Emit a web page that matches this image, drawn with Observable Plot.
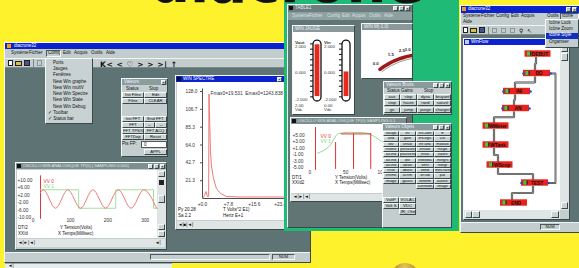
<!DOCTYPE html>
<html><head><meta charset="utf-8">
<script src="https://cdn.jsdelivr.net/npm/d3@7"></script>
<script src="https://cdn.jsdelivr.net/npm/@observablehq/plot@0.6"></script>
<style>
html,body{margin:0;padding:0;background:#fef22c;overflow:hidden}
#root{position:relative;width:579px;height:268px;overflow:hidden;background:#fef22c;font-family:"Liberation Sans",sans-serif;color:#111}
#root div{position:absolute;box-sizing:border-box}
.t{white-space:nowrap;line-height:1;font-size:4.5px}
#root svg{overflow:visible;display:block}
</style></head><body><div id="root"></div>
<script>
// ================= DATA =================
const headline = "diacrone";
const menuMain = ["Système", "Fichier", "Config", "Edit", "Acquis", "Outils", "Aide"];
const menuRight = ["Système", "Fichier", "Config", "Edit", "Acquis", "Outils", "Icone"];
const configItems = ["Ports", "Jauges", "Fenêtres", "New Win graphe", "New Win multV", "New Win Spectre", "New Win State", "New Win Debug", "✓ Toolbar", "✓ Status bar"];
const iconeItems = ["Icône Lock", "Icône Zoom", "Icône Style", "Organiser"];

// oscilloscope 1 (Y Tension (Volts) vs X Temps (Millisec))
const osc1T = [20, 27, 60, 93, 127, 160, 194, 228, 262, 296, 330];
const osc1Red = [3.5, 5, -5, 5, -5, 5, -5, 5, -5, 5, -5];
const osc1StepT = [20, 122, 221, 322, 333];
const osc1Green = [5, -5, 5, -5, -5];
const osc1YTicks = [10, 6, 2, -2, -6, -10];
const osc1XTicks = [0, 100, 200, 300];

// spectrum (Hertz E+1 vs Volts^2 E1)
const specF = [0, 0.6, 1.05, 1.5, 1.85, 1.95, 2.4, 2.7, 3.3, 4.2, 5.4, 7.2, 11.4, 17.4, 25];
const specA = [0, 3.6, 8.4, 2.4, 2.4, 125, 57, 39, 24, 12, 6, 2.4, 1.8, 1.8, 1.8];
const specYTicks = [21.3, 42.7, 64.0, 85.3, 106.7, 128.0];
const specXTicks = [0, 7.8, 15.6, 23.4];

// oscilloscope 2
const osc2GreenT = [11, 28, 40, 55, 75, 100];
const osc2Green = [-0.5, 1.8, 5.6, 6.0, 5.9, 3.2];
const osc2PulseT = [36, 61, 85];
const osc2PulseTop = [2.8, 5.5, 5.5];
const osc2PulseLow = -5.6;
const osc2TopSpan = [44, 86];
const osc2TopLevel = 5.5;
const osc2YTicks = [5, 3, 1, -1, -3, -5];
const osc2XTicks = [0, 50, 100];

// jauges (thermometers)
const jaugeNames = ["Vout", "Vin"];
const jaugeValues = [2.25, 0.2];
const jaugeReadout = ["2.00", "0.00"];
const jaugeLabelTicks = [2, 0, -2];
const jaugeMinorTicks = [2.2, 1.8, 1.4, 1.0, 0.6, 0.2, -0.2, -0.6, -1.0, -1.4, -1.8];

// gauge WIN M
const gaugeTickVals = [0, 1.5, 2.5, 3.0];
const gaugeTickText = ["0.0", "1.5", "2.5", "3.0"];
const gaugeBand = [0, 0.5, 1, 1.5, 2, 2.5, 3, 3.5];

// WinFlow diagram
const flowNames = ["DEBUT", "DO", "INI", "AN", "WMeter", "WTank", "WScop", "TEST", "END"];
const flowCol = [73.5, 72.5, 52.5, 51.5, 31.5, 31.5, 35.5, 70.5, 49.5];
const flowRow = [8.5, 28, 46, 63, 80.5, 99.5, 119.5, 137.5, 157.5];
const flowLoop = [[86, 28], [91, 28], [91, 137.5], [83, 137.5]];

// button panels
const bruitsRows = [["aux", "step", "dyna", "bruyant"], ["stop", "haute", "rand", "saturé"], ["go", "jump", "purge", "charger"]];
const objetsRows = [
  ["Sauge", "int", "infCode", "E"], ["and", "gain", "infLogic", "Div"], ["div", "unsat", "infTank", "modulo"],
  ["rhome", "pincount", "lnRate", "Regle"], ["lat.ind", "pourcent", "lnVal", "Vallev"], ["lat.ind", "div", "inMedia", "Integrs"],
  ["lat.ind", "absol", "Vent", "Integr"], ["Irrue", "dbout", "WEB", "mes.host"], ["Irrhme", "lo.hm", "WTab", "pat"],
  ["Image", "gauss", "WMem", "auteur"], [null, null, "lustream", "Image"]
];

// ================= HELPERS =================
const root = document.getElementById("root");
function div(x, y, w, h, css = "") {
  const d = document.createElement("div");
  d.style.cssText = `left:${x}px;top:${y}px;` + (w != null ? `width:${w}px;` : "") + (h != null ? `height:${h}px;` : "") + css;
  root.appendChild(d);
  return d;
}
function T(x, yc, s, css = "") {
  const d = document.createElement("div");
  d.className = "t";
  d.style.cssText = `left:${x}px;top:${yc - 2.4}px;` + css;
  d.textContent = s;
  root.appendChild(d);
  return d;
}
const RAISED = "border:1px solid;border-color:#f4f8f8 #3a4848 #3a4848 #f4f8f8;";
const SUNK = "border:1px solid;border-color:#4a5a5a #f4f8f8 #f4f8f8 #4a5a5a;";
const CHROME = "background:#c3cdcd;" + RAISED;
function btn(x, y, w, h, s, css = "") {
  const d = div(x, y, w, h, "background:#c9d3d3;" + RAISED + `font-size:4.2px;line-height:${h - 2}px;text-align:center;white-space:nowrap;overflow:hidden;` + css);
  d.textContent = s;
  return d;
}
function wbtns(xs, y, glyphs) {
  xs.forEach((x, i) => btn(x, y, 5, 5, glyphs[i], "background:#d8e0e0;font-weight:bold;font-size:4px;line-height:3px"));
}
function place(x, y, node) { const d = div(x, y); d.appendChild(node); return d; }
const PS = {background: "transparent", fontFamily: "Liberation Sans, sans-serif", fontSize: "4.8px", color: "#333", overflow: "visible"};

// vertical step curve for flow links
function stepV(context) {
  let pts = [];
  return {
    areaStart() {}, areaEnd() {},
    lineStart() { pts = []; },
    point(x, y) { pts.push([+x, +y]); },
    lineEnd() {
      if (!pts.length) return;
      context.moveTo(pts[0][0], pts[0][1]);
      for (let i = 1; i < pts.length; i++) {
        const [x0, y0] = pts[i - 1], [x1, y1] = pts[i], ym = (y0 + y1) / 2;
        context.lineTo(x0, ym); context.lineTo(x1, ym); context.lineTo(x1, y1);
      }
    }
  };
}

// ================= MAIN WINDOW (left) =================
div(4, 42, 307, 221, CHROME);
div(5, 43, 305, 6, "background:#0b22cc");
div(7, 44, 4, 4, "background:#f39a1e");
T(14, 46, "diacrone32", "color:#fff");
[11, 29, 48, 63, 74, 91, 106].forEach((x, i) => T(x, 53.5, menuMain[i]));
div(46, 50, 15, 7, SUNK);
div(5, 58, 305, 10, "border-top:1px solid #eef3f3;border-bottom:1px solid #7a8a8a");
div(8, 60, 5, 6, "background:#fff;border:1px solid #222");
div(15, 61, 7, 5, "background:#d8c040;border:1px solid #222");
div(24, 60, 6, 6, "background:#44558f;border:1px solid #222");
div(33, 59, 1, 8, "background:#7a8a8a");
div(37, 60, 5, 6, "border:1px solid #8a9a9a");
T(100, 63, "K< < ♡ > > >| ↑", "font-size:7.5px;font-weight:bold;letter-spacing:0.6px;font-family:'DejaVu Sans'");
div(5, 68, 305, 184, "background:#5e7373");
div(5, 252, 305, 10, "background:#c3cdcd;border-top:1px solid #eef3f3");
div(150, 254, 120, 6, SUNK);
const num1 = div(272, 254, 23, 6, SUNK + "font-size:4px;line-height:4px;text-align:center");
num1.textContent = "NUM";

// Valeurs panel
div(121, 78, 47, 79, "background:#c4cece;" + RAISED);
div(122, 79, 45, 6, "background:#8d9d9d");
T(124, 82, "Valeurs", "color:#eef");
wbtns([161], 79.5, ["×"]);
T(126, 89, "Status"); T(149, 89, "Stop");
btn(122, 92, 22, 6, "Init Filtre"); btn(144, 92, 23, 6, "Edit");
btn(122, 98, 22, 6, "Filtre"); btn(144, 98, 23, 6, "CLEAR");
btn(122, 116, 22, 6, "Init FFT"); btn(144, 116, 23, 6, "End FFT");
btn(122, 122, 22, 6, "FFT"); btn(144, 122, 11, 6, "←"); btn(155, 122, 12, 6, "→");
btn(122, 128, 22, 6, "FFT TPS%"); btn(144, 128, 23, 6, "FFT ACQ");
btn(122, 134, 22, 6, "FFTDep"); btn(144, 134, 23, 6, "Reset");
T(122, 144, "Pts FP:");
const inp = div(141, 141, 26, 7, "background:#fff;border:1px solid #555;font-size:4.5px;line-height:5px;padding-left:2px");
inp.textContent = "0";
btn(144, 149, 23, 6, "APPL");

// Oscillo window 1
div(15, 162, 152, 88, "background:#c4cece;" + RAISED);
div(16, 163, 150, 6, "background:#7e8f8f");
div(17, 164, 4, 4, "background:#111");
T(23, 166, "OSCILLO WIN ANALOGIQUE  TP(0) [ SAMPLING 0.000]", "color:#dfe6e6;font-size:4.2px");
wbtns([148, 154, 160], 163.5, ["_", "□", "×"]);
div(17, 170, 140, 68, "background:#fff");
div(157, 170, 9, 68, "background:#dfe5e5");
div(158, 171, 7, 6, "background:#c9d3d3;" + RAISED);
div(159, 180, 5, 5, "background:#222");
div(158, 195, 7, 8, "background:#c9d3d3;" + RAISED);
div(158, 224, 7, 6, "background:#c9d3d3;" + RAISED);
div(158, 231, 7, 6, "background:#c9d3d3;" + RAISED);
div(17, 239, 148, 8, "background:#dfe5e5");
T(18, 243, "◄|►|◄|", "font-size:4.5px");
T(155, 243, "◄|", "font-size:4.5px");
T(18, 228, "DT/2"); T(18, 234, "XX/d");
T(60, 228, "Y Tension(Volts)"); T(58, 234, "X Temps(Millisec)");

place(17, 169, Plot.plot({
  width: 140, height: 58, marginLeft: 23, marginRight: 1, marginTop: 11, marginBottom: 10,
  x: {domain: [20, 330], axis: null}, y: {domain: [-10, 10], axis: null}, style: PS,
  marks: [
    Plot.ruleX([20], {y1: -11, y2: 12.5, stroke: "#e03838", strokeWidth: 1}),
    Plot.line(osc1StepT.map((t, i) => ({t, v: osc1Green[i]})), {x: "t", y: "v", curve: "step-after", stroke: "#9ee29e", strokeWidth: 1}),
    Plot.line(osc1T.map((t, i) => ({t, v: osc1Red[i]})), {x: "t", y: "v", curve: "monotone-x", stroke: "#ee7c7c", strokeWidth: 1}),
    Plot.text(osc1YTicks, {y: d => d, text: d => (d > 0 ? "+" : "") + d.toFixed(2), frameAnchor: "left", dx: -23, textAnchor: "start"}),
    Plot.text(osc1XTicks, {x: d => d, text: d => String(d), frameAnchor: "bottom", dy: 4}),
    Plot.text(["VV 0"], {frameAnchor: "top-left", dx: 3, dy: -1, fill: "#e03838", textAnchor: "start"}),
    Plot.text(["VV 1"], {frameAnchor: "top-left", dx: 3, dy: 4, fill: "#7ad67a", textAnchor: "start"})
  ]
}));

// Spectrum window
div(175, 75, 125, 155, "background:#c4cece;" + RAISED);
div(176, 76, 123, 6, "background:#0b22cc");
div(177, 77, 4, 4, "background:#111");
T(183, 79, "WIN SPECTRE", "color:#fff");
wbtns([277], 76.5, ["▪"]);
div(177, 82, 122, 138, "background:#fff");
div(177, 221, 122, 8, "background:#dfe5e5");
T(178, 225, "◄|■|◄|");
T(178, 210, "Py 20.28"); T(178, 216, "Sa 2.2");
T(223, 210, "T Volts^2 E1)"); T(223, 216, "Hertz E+1");
place(177, 82, Plot.plot({
  width: 110, height: 130, marginLeft: 25, marginRight: 2, marginTop: 9, marginBottom: 14,
  x: {domain: [0, 25], axis: null}, y: {domain: [0, 128], axis: null}, style: PS,
  marks: [
    Plot.ruleX([0], {y1: 0, y2: 131, stroke: "#222", strokeWidth: 0.8}),
    Plot.ruleY([0], {x1: 0, x2: 25, stroke: "#222", strokeWidth: 0.8}),
    Plot.ruleY(specYTicks, {x1: -0.6, x2: 0, stroke: "#222", strokeWidth: 0.8}),
    Plot.line(specF.map((f, i) => ({f, a: specA[i]})), {x: "f", y: "a", stroke: "#f07878", strokeWidth: 1}),
    Plot.text(specYTicks, {y: d => d, text: d => d.toFixed(1), frameAnchor: "left", dx: -17, textAnchor: "start"}),
    Plot.text(specXTicks, {x: d => d, text: d => "+" + d.toFixed(1), frameAnchor: "bottom", dy: 7}),
    Plot.text(["Fmax0=19.531  Emax0=1243.838"], {frameAnchor: "top-left", dx: 8, dy: 0, textAnchor: "start"})
  ]
}));

// bottom strip & coin
div(5, 263, 167, 6, "background:#e7ecec;border-top:1px solid #9aa");
T(8, 266, "◄|");
div(391, 263, 28, 28, "border-radius:50%;background:radial-gradient(circle at 50% 15%, #e8c860, #a57c1a 55%, #6a4a08)");

// ================= GREEN PANEL =================
div(284, 0, 175, 231, "background:#1fba76");
div(287, 4, 126, 224, "background:#b8c4c4;" + RAISED);
div(288, 5, 124, 7, "background:#6c7e7e");
div(289, 6, 4, 4, "background:#111");
T(295, 8.5, "TABLE1", "color:#e4eaea");
wbtns([393, 399, 405], 6, ["_", "□", "×"]);
div(288, 12, 124, 8, "background:#8fa0a0");
[292, 309, 327, 342, 352, 369, 384].forEach((x, i) => T(x, 16, menuMain[i], "color:#d8e2e2"));
div(288, 20, 124, 207, "background:#617575");

// WIN JAUGE
div(292, 25, 63, 90, "background:#c4cece;" + RAISED);
div(293, 26, 61, 6, "background:#8a9a9a");
T(295, 29, "WIN JAUGE", "color:#eef");
div(293, 32, 61, 82, "background:#fff");
const jaugeData = jaugeNames.map((name, i) => ({name, value: jaugeValues[i], readout: jaugeReadout[i]}));
place(292, 32, Plot.plot({
  width: 63, height: 81, marginTop: 14, marginBottom: 14, marginLeft: 0, marginRight: 0,
  x: {type: "band", domain: jaugeNames, range: [20, 58], paddingInner: 0.7333, paddingOuter: 0, axis: null},
  y: {domain: [-2, 2], axis: null}, style: PS,
  marks: [
    Plot.barY(jaugeData, {x: "name", y1: -2.15, y2: 2.45, fill: "#fff", stroke: "#111", strokeWidth: 1.3, rx: 4}),
    Plot.barY(jaugeData, {x: "name", y1: -1.9, y2: "value", fill: "#e8281e", inset: 1.6}),
    Plot.tickY(jaugeNames.flatMap(name => jaugeMinorTicks.map(v => ({name, v}))), {x: "name", y: "v", stroke: "#111", insetRight: 5, dx: -3}),
    Plot.text(jaugeNames.flatMap(name => jaugeLabelTicks.map(v => ({name, v}))), {x: "name", y: "v", text: d => d.v.toFixed(3), dx: -22.5, textAnchor: "start", fontSize: 4.4}),
    Plot.text(jaugeData, {x: "name", text: "name", frameAnchor: "top", dy: -6, dx: -22.5, textAnchor: "start", fontWeight: "bold", fontSize: 4.4}),
    Plot.text(jaugeData, {x: "name", text: "readout", frameAnchor: "bottom", dy: 7, dx: -22.5, textAnchor: "start", fontSize: 4.4}),
    Plot.text(jaugeData, {x: "name", text: () => "Vdc", frameAnchor: "bottom", dy: 11, dx: -22.5, textAnchor: "start", fontSize: 4.4})
  ]
}));

// WIN M gauge
div(361, 23, 52, 56, "background:#c4cece;" + RAISED);
div(362, 24, 50, 6, "background:#8a9a9a");
T(364, 27, "WIN M(-1.0)", "color:#eef");
div(362, 30, 50, 48, "background:#fff");
{
  const cx = 424 - 362, cy = 128 - 30, R = 74;
  const ang = v => (-127 + v * 8.3) * Math.PI / 180;
  const pt = (v, r) => ({x: cx + r * Math.cos(ang(v)), y: cy + r * Math.sin(ang(v))});
  const g = Plot.plot({
    width: 50, height: 48, margin: 0,
    x: {domain: [0, 50], axis: null}, y: {domain: [48, 0], axis: null}, style: PS,
    marks: [
      Plot.line(gaugeBand.map(v => pt(v, R)), {x: "x", y: "y", stroke: "#9e1a1a", strokeWidth: 3.5, curve: "natural"}),
      Plot.line(gaugeBand.map(v => pt(v, R - 3)), {x: "x", y: "y", stroke: "#555", strokeWidth: 0.6, curve: "natural"}),
      Plot.text(gaugeTickVals.map((v, i) => ({...pt(v, R + 7), s: gaugeTickText[i]})), {x: "x", y: "y", text: "s", fontSize: 4.4, fontWeight: "bold"})
    ]
  });
  const wrap = div(362, 30, 50, 48, "overflow:hidden");
  wrap.appendChild(g);
}

// Valeurs Bruits
div(383, 81, 69, 34, "background:#c4cece;" + RAISED);
div(384, 82, 67, 6, "background:#8a9a9a");
T(386, 85, "Valeurs   Bruits", "color:#eef");
wbtns([433, 439, 445], 82.5, ["_", "□", "×"]);
T(387, 91, "Status"); T(401, 91, "Gains"); T(424, 91, "Stop");
const colB = [384, 400, 417, 434], wB = [16, 17, 17, 17];
bruitsRows.forEach((r, i) => r.forEach((s, j) => btn(colB[j], 94 + i * 6.3, wB[j], 6, s)));

// Oscillo window 2
div(290, 117, 117, 85, "background:#c4cece;" + RAISED);
div(291, 118, 115, 6, "background:#7e8f8f");
div(292, 119, 4, 4, "background:#111");
T(298, 121, "OSCILLO WIN ANALOGIQUE  TP(0)  SAMPLING 0.1", "color:#dfe6e6;font-size:4.2px");
div(291, 124, 115, 69, "background:#fff");
div(291, 194, 115, 7, "background:#dfe5e5");
T(293, 197.5, "◄|►|◄|");
T(292, 178, "DT/1"); T(292, 183, "XX/d2");
T(335, 178, "Y Tension(Volts)"); T(335, 183, "X Temps(Millisec)");
place(291, 124, Plot.plot({
  width: 95, height: 55, marginLeft: 24, marginRight: 5, marginTop: 11, marginBottom: 12,
  x: {domain: [8, 100], axis: null}, y: {domain: [-5, 5], axis: null}, style: PS,
  marks: [
    Plot.ruleX([8], {y1: -5.9, y2: 7.5, stroke: "#e03838"}),
    Plot.line(osc2GreenT.map((t, i) => ({t, v: osc2Green[i]})), {x: "t", y: "v", stroke: "#8fdc8f", strokeWidth: 1, curve: "monotone-x"}),
    Plot.ruleX(osc2PulseT.map((t, i) => ({t, top: osc2PulseTop[i]})), {x: "t", y1: osc2PulseLow, y2: "top", stroke: "#e83030", strokeWidth: 1}),
    Plot.ruleY([osc2TopLevel], {x1: osc2TopSpan[0], x2: osc2TopSpan[1], stroke: "#e83030", strokeWidth: 1}),
    Plot.text(osc2YTicks, {y: d => d, text: d => (d > 0 ? "+" : "") + d.toFixed(2), frameAnchor: "left", dx: -23, textAnchor: "start"}),
    Plot.text(osc2XTicks, {x: d => d, text: d => String(d), frameAnchor: "bottom", dy: 6}),
    Plot.text(["VV 0"], {frameAnchor: "top-left", dx: 5, dy: -1, fill: "#e03838", textAnchor: "start"}),
    Plot.text(["VV 1"], {frameAnchor: "top-left", dx: 5, dy: 4, fill: "#7ad67a", textAnchor: "start"})
  ]
}));

// Valeurs Objets
div(382, 123, 70, 105, "background:#c4cece;" + RAISED);
div(383, 124, 68, 6, "background:#8a9a9a");
T(385, 127, "Valeurs   Objets", "color:#eef");
wbtns([433, 439, 445], 124.5, ["_", "□", "×"]);
const colO = [383, 399, 416, 434], wO = [16, 17, 18, 17];
objetsRows.forEach((r, i) => r.forEach((s, j) => { if (s) btn(colO[j], 131 + i * 5.3, wO[j], 5.3, s, "font-size:3.8px"); }));
btn(383, 197, 16, 6, "VoltP"); btn(399, 197, 17, 6, "VOLAC");
btn(383, 203, 16, 6, "Volt S"); btn(399, 203, 17, 6, "VDC");
btn(399, 209, 17, 6, "JR_Ohm");

// ================= RIGHT WINDOW =================
div(460, 5, 120, 228, CHROME);
div(461, 6, 119, 7, "background:#0b22cc");
div(462, 7, 4, 4, "background:#f39a1e");
T(468, 9.5, "diacrone32", "color:#fff");
wbtns([566, 572], 7, ["□", "×"]);
[463, 481, 496, 511, 521, 547, 562].forEach((x, i) => T(x, 16, menuRight[i]));
div(560, 13, 19, 7, SUNK);
T(463, 22.5, "Aide");
div(461, 25, 118, 10, "border-top:1px solid #eef3f3;border-bottom:1px solid #7a8a8a");
div(463, 27, 5, 6, "background:#fff;border:1px solid #222");
div(470, 28, 7, 5, "background:#d8c040;border:1px solid #222");
div(479, 27, 6, 6, "background:#44558f;border:1px solid #222");
div(488, 27, 1, 7, "background:#7a8a8a");
div(492, 28, 5, 5, "border:1px solid #8a9a9a");
div(501, 28, 5, 5, "border:1px solid #8a9a9a");
div(510, 28, 5, 5, "border:1px solid #8a9a9a");
T(519, 30, "♀", "font-size:6px;font-weight:bold;font-family:'DejaVu Sans'");
T(527, 30, "↖", "font-size:6px;font-family:'DejaVu Sans'");
div(461, 35, 118, 187, "background:#5e7373");
// WinFlow inner window
div(463, 38, 107, 182, "background:#c4cece;" + RAISED);
div(464, 39, 105, 6, "background:#0b22cc");
div(465, 40, 4, 4, "background:#ccd");
T(471, 42, "WinFlow", "color:#fff");
div(464, 45, 96, 165, "background:#fff");
div(560, 45, 9, 165, "background:#dfe5e5");
div(561, 46, 7, 6, "background:#c9d3d3;" + RAISED);
div(561, 53, 7, 8, "background:#c9d3d3;" + RAISED);
div(561, 202, 7, 7, "background:#c9d3d3;" + RAISED);
div(464, 210, 96, 9, "background:#dfe5e5");
div(465, 211, 7, 7, "background:#c9d3d3;" + RAISED);
div(472, 211, 8, 7, "background:#c9d3d3;" + RAISED);
div(551, 211, 8, 7, "background:#c9d3d3;" + RAISED);
div(461, 222, 118, 10, "background:#c3cdcd;border-top:1px solid #eef3f3");
const num2 = div(540, 224, 20, 6, SUNK + "font-size:4px;line-height:4px;text-align:center");
num2.textContent = "NUM";

const nodes = flowNames.map((name, i) => ({name, x: flowCol[i], y: flowRow[i], w: name.length > 4 ? 26 : 27}));
const links = nodes.slice(1).map((n, i) => ({a: nodes[i], b: n}));
const dotsIdx = [1, 2, 3, 7];
place(464, 45, Plot.plot({
  width: 96, height: 165, margin: 0,
  x: {domain: [0, 96], axis: null}, y: {domain: [165, 0], axis: null}, style: PS,
  marks: [
    Plot.link(links, {x1: d => d.a.x - 2, y1: d => d.a.y + 3, x2: d => d.b.x - 2, y2: d => d.b.y - 3, curve: stepV, stroke: "#444", strokeWidth: 2.2}),
    Plot.link(links, {x1: d => d.a.x - 2, y1: d => d.a.y + 3, x2: d => d.b.x - 2, y2: d => d.b.y - 3, curve: stepV, stroke: "#b8b8b8", strokeWidth: 0.8}),
    Plot.line(flowLoop, {x: d => d[0], y: d => d[1], stroke: "#444", strokeWidth: 1.8}),
    Plot.line(flowLoop, {x: d => d[0], y: d => d[1], stroke: "#bbb", strokeWidth: 0.6}),
    Plot.rect(nodes, {x1: d => d.x - d.w / 2, x2: d => d.x + d.w / 2, y1: d => d.y - 3.2, y2: d => d.y + 3.2, fill: "#e8231c"}),
    Plot.rect(nodes, {x1: d => d.x - d.w / 2 + 2.5, x2: d => d.x - d.w / 2 + 5.5, y1: d => d.y - 2, y2: d => d.y + 2, fill: "#35d035"}),
    Plot.rect(nodes, {x1: d => d.x - d.w / 2 + 5.5, x2: d => d.x - d.w / 2 + 7, y1: d => d.y - 2, y2: d => d.y + 2, fill: "#333"}),
    Plot.text(nodes, {x: d => d.x + 2, y: "y", text: "name", fontWeight: "bold", fontSize: 4.8, fill: "#111"}),
    Plot.dot(dotsIdx.flatMap(i => [{x: nodes[i].x - nodes[i].w / 2, y: nodes[i].y}, {x: nodes[i].x + nodes[i].w / 2, y: nodes[i].y}]), {x: "x", y: "y", r: 1.3, fill: "#2546e6"})
  ]
}));

// Icone dropdown
div(545, 19, 34, 29, CHROME);
[23, 29, 35.5, 42].forEach((y, i) => {
  if (i === 2) { div(546, 32.5, 32, 6, "background:#1030c0"); T(549, y, iconeItems[i], "color:#fff"); }
  else T(549, y, iconeItems[i]);
});

// Config dropdown (on main window)
div(45, 58, 48, 66, "background:#c8d2d2;" + RAISED);
configItems.forEach((s, i) => T(s.startsWith("✓") ? 48 : 53, 63 + i * 6.3, s));

// big headline, only the lower edge of its letters shows at the top
const hl = div(150, -47, 232, 60, "display:flex;justify-content:space-between;font-family:'DejaVu Sans';font-size:56px;font-weight:bold;line-height:60px;color:#111");
for (const ch of headline) { const s = document.createElement("span"); s.textContent = ch; hl.appendChild(s); }
</script></body></html>
